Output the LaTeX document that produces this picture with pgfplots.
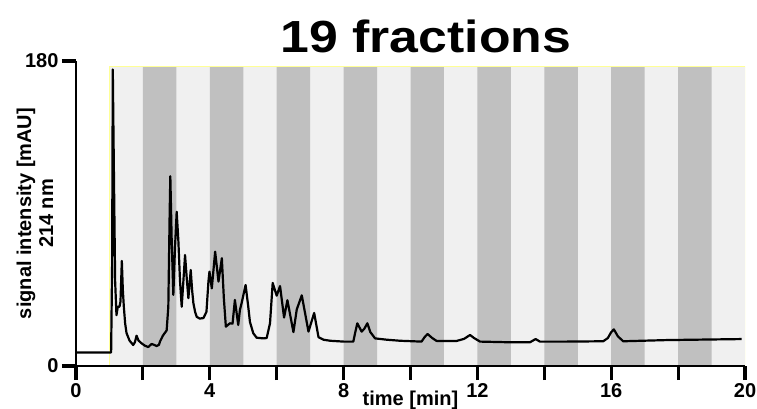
\documentclass[border=0pt]{standalone}
\usepackage{fontspec}
\setmainfont{Liberation Sans}
\usepackage{pgfplots}
\pgfplotsset{compat=1.18}
\definecolor{stripelight}{RGB}{240,240,240}
\definecolor{stripedark}{RGB}{192,192,192}
\definecolor{paleyellow}{RGB}{255,255,150}

\begin{document}
\begin{tikzpicture}
\begin{axis}[
  scale only axis, width=669pt, height=305pt,
  xmin=0, xmax=20, ymin=0, ymax=180,
  axis lines=left, axis line style={line width=2.2pt, -},
  axis on top,
  tick align=outside, major tick length=14pt,
  every tick/.append style={line width=3.2pt, black},
  xtick style={line width=3.2pt}, ytick style={line width=3.2pt},
  xtick={0,2,...,20}, xticklabels={0,,4,,8,,12,,16,,20},
  ytick={0,180},
  ticklabel style={font=\fontsize{20}{20}\selectfont\bfseries},
  /pgf/number format/assume math mode=true,
  xlabel={time [min]},
  xlabel style={at={(axis description cs:0.5,0)}, anchor=base, yshift=-39pt,
    font=\fontsize{20}{20}\selectfont\bfseries},
  ylabel={signal intensity [mAU]\\214 nm},
  ylabel style={at={(axis description cs:-0.0613,0.5)}, anchor=center, align=center,
    font=\fontsize{20}{22}\selectfont\bfseries},
  title={\scalebox{1.15}[1]{19 fractions}},
  title style={at={(axis description cs:0.523,1)}, anchor=base, yshift=3pt,
    font=\fontsize{45}{45}\selectfont\bfseries},
]
% fraction stripes
\addplot[fill=stripelight, draw=none] coordinates {(1,0)(1,177)(20,177)(20,0)} -- cycle;
\addplot[ybar, bar width=1, bar shift=0, fill=stripedark, draw=none] coordinates
  {(2.5,177)(4.5,177)(6.5,177)(8.5,177)(10.5,177)(12.5,177)(14.5,177)(16.5,177)(18.5,177)};
\addplot[paleyellow, line width=1pt] coordinates {(1,0)(1,177)(20,177)(20,0)};
% chromatogram
\addplot[black, line width=2.2pt, line join=round] coordinates {
(0,8)(1.05,8)(1.08,60)(1.1,175)(1.13,120)(1.17,50)(1.21,30)(1.25,35)(1.3,35)(1.33,38)
(1.37,62)(1.4,45)(1.43,35)(1.47,25)(1.51,19.5)(1.6,15)(1.71,12.4)(1.76,14)(1.81,17.9)
(1.87,15)(1.96,13.4)(2.06,12)(2.16,11.2)(2.26,13)(2.33,12.5)(2.41,11.8)(2.48,12.5)
(2.51,14.4)(2.6,18)(2.71,21)(2.76,35)(2.8,90)(2.82,112)(2.86,75)(2.91,42)(2.96,70)
(3.01,91)(3.06,74)(3.11,50)(3.16,35)(3.21,50)(3.26,65.5)(3.31,52)(3.36,40)(3.43,56.7)
(3.47,45)(3.51,37)(3.56,32)(3.61,29)(3.7,28)(3.81,28.3)(3.9,32)(3.96,50)(3.99,55.7)
(4.06,45.8)(4.16,67.5)(4.26,49.8)(4.36,63.6)(4.42,40)(4.48,23.2)(4.6,25.2)(4.68,25)
(4.75,39)(4.85,24.2)(4.9,33)(4.95,37)(5.07,47.8)(5.15,35)(5.2,26)(5.3,19.3)(5.4,16.7)
(5.6,16.3)(5.7,16.5)(5.8,25.2)(5.88,49)(6.0,41.5)(6.1,47.2)(6.22,28.6)(6.32,38.8)
(6.5,20)(6.6,33.4)(6.75,41.7)(6.95,20.3)(7.12,31.3)(7.25,17)(7.4,15.5)(7.6,14.9)
(8.0,14.4)(8.29,14.4)(8.35,20)(8.41,25.2)(8.54,20.3)(8.62,22)(8.71,25.2)(8.8,20)
(8.94,16.3)(9.3,15.5)(9.69,14.9)(10.33,14.4)(10.42,17)(10.51,18.9)(10.65,16.5)
(10.78,14.8)(11.38,14.8)(11.6,16)(11.78,18.3)(11.9,16.5)(12.08,14.4)(12.97,14)
(13.57,14)(13.74,15.9)(13.87,14.4)(14.67,14.4)(15.76,14.6)(15.9,16.5)(16.0,20)
(16.08,21.6)(16.2,17.5)(16.36,14.6)(17.66,15.3)(19.9,15.9)};
\end{axis}
\pgfresetboundingbox
\path[use as bounding box] (-76pt,-42pt) rectangle (681pt,366pt);
\end{tikzpicture}
\end{document}
